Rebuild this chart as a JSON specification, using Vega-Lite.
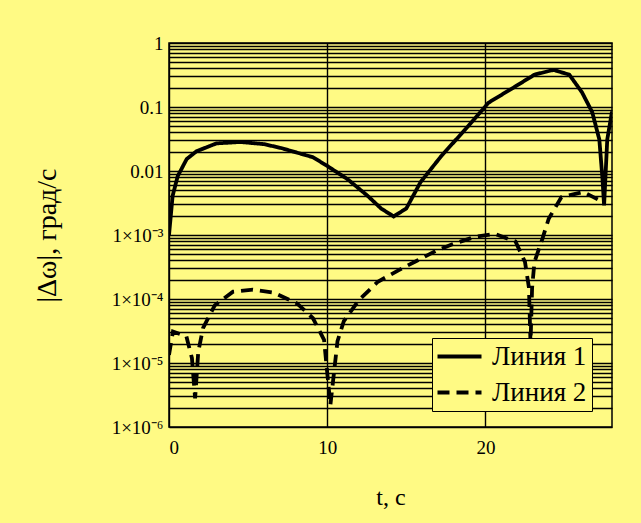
{
  "$schema": "https://vega.github.io/schema/vega-lite/v6.json",
  "width": 443,
  "height": 384,
  "autosize": {"type": "none"},
  "padding": {"left": 169, "top": 43, "right": 29, "bottom": 96},
  "background": "#FFFA84",
  "config": {
    "view": {"stroke": "black", "strokeWidth": 1.5},
    "font": "Liberation Serif"
  },
  "data": {
    "values": [
      {"t": 0.0, "v": 0.001, "s": "Линия 1"},
      {"t": 0.23, "v": 0.0041, "s": "Линия 1"},
      {"t": 0.55, "v": 0.0083, "s": "Линия 1"},
      {"t": 1.12, "v": 0.0154, "s": "Линия 1"},
      {"t": 1.75, "v": 0.0204, "s": "Линия 1"},
      {"t": 3.0, "v": 0.027, "s": "Линия 1"},
      {"t": 4.5, "v": 0.0284, "s": "Линия 1"},
      {"t": 6.0, "v": 0.0263, "s": "Линия 1"},
      {"t": 7.1, "v": 0.0228, "s": "Линия 1"},
      {"t": 9.1, "v": 0.0164, "s": "Линия 1"},
      {"t": 10.0, "v": 0.012, "s": "Линия 1"},
      {"t": 11.3, "v": 0.0074, "s": "Линия 1"},
      {"t": 12.55, "v": 0.0041, "s": "Линия 1"},
      {"t": 13.4, "v": 0.0026, "s": "Линия 1"},
      {"t": 14.2, "v": 0.00195, "s": "Линия 1"},
      {"t": 15.0, "v": 0.0026, "s": "Линия 1"},
      {"t": 15.9, "v": 0.0067, "s": "Линия 1"},
      {"t": 17.2, "v": 0.017, "s": "Линия 1"},
      {"t": 18.9, "v": 0.05, "s": "Линия 1"},
      {"t": 20.2, "v": 0.117, "s": "Линия 1"},
      {"t": 21.9, "v": 0.21, "s": "Линия 1"},
      {"t": 23.1, "v": 0.32, "s": "Линия 1"},
      {"t": 24.3, "v": 0.38, "s": "Линия 1"},
      {"t": 25.3, "v": 0.32, "s": "Линия 1"},
      {"t": 26.1, "v": 0.17, "s": "Линия 1"},
      {"t": 26.75, "v": 0.083, "s": "Линия 1"},
      {"t": 27.2, "v": 0.031, "s": "Линия 1"},
      {"t": 27.4, "v": 0.0074, "s": "Линия 1"},
      {"t": 27.5, "v": 0.0029, "s": "Линия 1"},
      {"t": 27.7, "v": 0.031, "s": "Линия 1"},
      {"t": 28.0, "v": 0.085, "s": "Линия 1"},
      {"t": 0.0, "v": 1.34e-5, "s": "Линия 2"},
      {"t": 0.25, "v": 3.1e-5, "s": "Линия 2"},
      {"t": 1.1, "v": 2.6e-5, "s": "Линия 2"},
      {"t": 1.45, "v": 1.19e-5, "s": "Линия 2"},
      {"t": 1.65, "v": 2.8e-6, "s": "Линия 2"},
      {"t": 1.85, "v": 1.5e-5, "s": "Линия 2"},
      {"t": 2.15, "v": 3.5e-5, "s": "Линия 2"},
      {"t": 2.9, "v": 8e-5, "s": "Линия 2"},
      {"t": 4.05, "v": 1.3e-4, "s": "Линия 2"},
      {"t": 5.3, "v": 1.4e-4, "s": "Линия 2"},
      {"t": 6.6, "v": 1.26e-4, "s": "Линия 2"},
      {"t": 8.1, "v": 8.5e-5, "s": "Линия 2"},
      {"t": 9.1, "v": 5e-5, "s": "Линия 2"},
      {"t": 9.8, "v": 2.3e-5, "s": "Линия 2"},
      {"t": 10.2, "v": 2.2e-6, "s": "Линия 2"},
      {"t": 10.65, "v": 2.2e-5, "s": "Линия 2"},
      {"t": 11.05, "v": 4.5e-5, "s": "Линия 2"},
      {"t": 12.0, "v": 9.6e-5, "s": "Линия 2"},
      {"t": 13.2, "v": 1.86e-4, "s": "Линия 2"},
      {"t": 14.5, "v": 2.8e-4, "s": "Линия 2"},
      {"t": 15.7, "v": 4e-4, "s": "Линия 2"},
      {"t": 16.9, "v": 5.7e-4, "s": "Линия 2"},
      {"t": 18.0, "v": 7.3e-4, "s": "Линия 2"},
      {"t": 19.3, "v": 9.3e-4, "s": "Линия 2"},
      {"t": 20.6, "v": 1.04e-3, "s": "Линия 2"},
      {"t": 21.9, "v": 7.9e-4, "s": "Линия 2"},
      {"t": 22.5, "v": 3.8e-4, "s": "Линия 2"},
      {"t": 22.75, "v": 1.5e-4, "s": "Линия 2"},
      {"t": 22.85, "v": 2e-5, "s": "Линия 2"},
      {"t": 22.95, "v": 1.5e-4, "s": "Линия 2"},
      {"t": 23.1, "v": 3.8e-4, "s": "Линия 2"},
      {"t": 23.6, "v": 8.7e-4, "s": "Линия 2"},
      {"t": 24.0, "v": 1.8e-3, "s": "Линия 2"},
      {"t": 24.8, "v": 3.9e-3, "s": "Линия 2"},
      {"t": 26.2, "v": 4.7e-3, "s": "Линия 2"},
      {"t": 27.4, "v": 3.3e-3, "s": "Линия 2"}
    ]
  },
  "mark": {"type": "line", "color": "black", "strokeWidth": 3.8, "clip": true},
  "encoding": {
    "x": {
      "field": "t",
      "type": "quantitative",
      "scale": {"domain": [0, 28], "nice": false, "zero": false},
      "axis": {
        "values": [0, 10, 20],
        "title": "t, c",
        "titleFont": "Liberation Serif",
        "titleFontSize": 24,
        "titleFontWeight": "normal",
        "titleColor": "black",
        "titlePadding": 28,
        "labelFont": "Liberation Serif",
        "labelFontSize": 19,
        "labelColor": "black",
        "labelPadding": 11,
        "ticks": false,
        "domain": false,
        "grid": true,
        "gridColor": "black",
        "gridOpacity": 1,
        "gridWidth": 1.4
      }
    },
    "y": {
      "field": "v",
      "type": "quantitative",
      "scale": {"type": "log", "domain": [1e-6, 1], "nice": false},
      "axis": {
        "values": [1e-6,2e-6,3e-6,4e-6,5e-6,6e-6,7e-6,8e-6,9e-6,1e-5,2e-5,3e-5,4e-5,5e-5,6e-5,7e-5,8e-5,9e-5,1e-4,2e-4,3e-4,4e-4,5e-4,6e-4,7e-4,8e-4,9e-4,0.001,0.002,0.003,0.004,0.005,0.006,0.007,0.008,0.009,0.01,0.02,0.03,0.04,0.05,0.06,0.07,0.08,0.09,0.1,0.2,0.3,0.4,0.5,0.6,0.7,0.8,0.9,1],
        "labelExpr": "datum.value > 0.99 ? '1' : abs(datum.value - 0.1) < 1e-9 ? '0.1' : abs(datum.value - 0.01) < 1e-10 ? '0.01' : abs(datum.value - 0.001) < 1e-11 ? '1×10⁻³' : abs(datum.value - 1e-4) < 1e-12 ? '1×10⁻⁴' : abs(datum.value - 1e-5) < 1e-13 ? '1×10⁻⁵' : abs(datum.value - 1e-6) < 1e-14 ? '1×10⁻⁶' : ''",
        "title": "|Δω|, град/с",
        "titleFont": "Liberation Serif",
        "titleFontSize": 28,
        "titleFontWeight": "normal",
        "titleColor": "black",
        "titlePadding": 50,
        "labelFont": "Liberation Serif",
        "labelFontSize": 19,
        "labelColor": "black",
        "labelPadding": 6,
        "labelOverlap": false,
        "ticks": false,
        "domain": false,
        "grid": true,
        "gridColor": "black",
        "gridOpacity": 1,
        "gridWidth": 1.4
      }
    },
    "strokeDash": {
      "field": "s",
      "type": "nominal",
      "scale": {"domain": ["Линия 1", "Линия 2"], "range": [[1, 0], [12, 7]]},
      "legend": {
        "title": null,
        "orient": "none",
        "legendX": 263,
        "legendY": 295,
        "strokeColor": "black",
        "fillColor": "#FFFA84",
        "padding": 5,
        "symbolType": "M-2,0H2",
        "symbolSize": 484,
        "symbolOffset": 9,
        "symbolStrokeWidth": 3.8,
        "symbolStrokeColor": "black",
        "symbolFillColor": "transparent",
        "labelFont": "Liberation Serif",
        "labelFontSize": 27,
        "labelColor": "black",
        "rowPadding": 8,
        "labelOffset": 19
      }
    }
  }
}
